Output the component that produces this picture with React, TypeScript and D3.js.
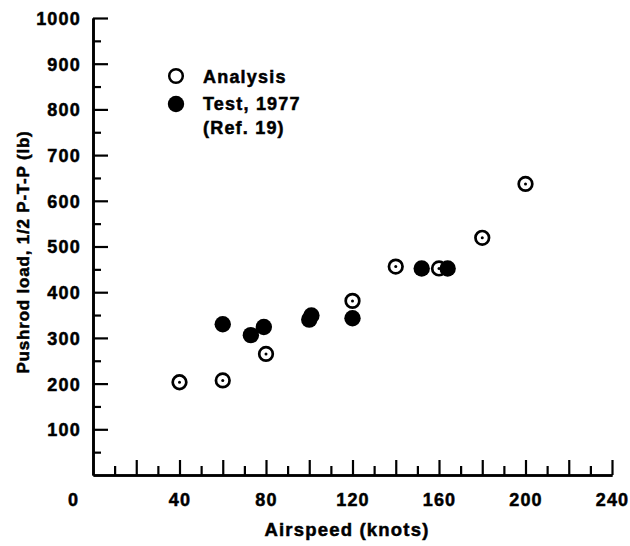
import React, { Component } from "react"
import * as d3 from "d3"

// values
const analysisSpeed = [40, 60, 80, 120, 140, 160, 180, 200]
const analysisLoad = [203, 207, 265, 381, 456, 452, 519, 637]
const testSpeed = [60, 73, 79, 100, 101, 120, 152, 164]
const testLoad = [330, 306, 324, 340, 349, 343, 452, 452]

const xMajorTicks = d3.range(20, 241, 20)
const xMinorTicks = d3.range(10, 240, 20)
const xTickLabels = [0, 40, 80, 120, 160, 200, 240]
const yMajorTicks = d3.range(100, 1001, 100)
const yMinorTicks = d3.range(50, 1000, 100)
const legendItems = ["Analysis", "Test, 1977", "(Ref. 19)"]

const FONT = "'Liberation Sans', Arial, Helvetica, sans-serif"

class App extends Component {
  svgRef = React.createRef<SVGSVGElement>()

  componentDidMount() {
    const svg = d3.select(this.svgRef.current)
    svg.selectAll("*").remove()

    const x = d3.scaleLinear().domain([0, 240]).range([93, 612])
    const y = d3.scaleLinear().domain([0, 1000]).range([475, 18])

    // heavy bold text like the scanned figure
    const boldText = (t, size) => t.attr("fill", "#000").attr("font-family", FONT)
      .attr("font-weight", "bold").attr("font-size", size).attr("letter-spacing", 1.2)
      .attr("stroke", "#000").attr("stroke-width", 0.5)

    const styleAxis = (g) => {
      g.select(".domain").attr("stroke", "#000").attr("stroke-width", 2.6)
      g.selectAll(".tick line").attr("stroke", "#000").attr("stroke-width", 2.2)
      g.selectAll(".tick text").call(boldText, 18)
    }

    // y axis, ticks pointing inward
    svg.append("g").attr("transform", `translate(${x(0)},0)`)
      .call(d3.axisLeft(y).tickValues(yMinorTicks).tickSizeInner(-8).tickSizeOuter(0).tickFormat(() => ""))
      .call(styleAxis)
    svg.append("g").attr("transform", `translate(${x(0)},0)`)
      .call(d3.axisLeft(y).tickValues(yMajorTicks).tickSizeInner(-15).tickSizeOuter(0).tickPadding(12).tickFormat(d3.format("d")))
      .call(styleAxis)
      .call(g => g.selectAll(".tick text").attr("dy", "0.36em"))

    // x axis
    svg.append("g").attr("transform", `translate(0,${y(0)})`)
      .call(d3.axisBottom(x).tickValues(xMinorTicks).tickSizeInner(-9).tickSizeOuter(0).tickFormat(() => ""))
      .call(styleAxis)
    svg.append("g").attr("transform", `translate(0,${y(0)})`)
      .call(d3.axisBottom(x).tickValues(xMajorTicks).tickSizeInner(-15).tickSizeOuter(0).tickFormat(() => ""))
      .call(styleAxis)
    svg.append("g").attr("transform", `translate(0,${y(0)})`)
      .call(d3.axisBottom(x).tickValues(xTickLabels).tickSize(0).tickPadding(18).tickFormat(d3.format("d")))
      .call(styleAxis)
      .call(g => g.select(".domain").remove())
      .call(g => g.selectAll(".tick text").attr("dx", d => d === 0 ? -20 : 0))

    // axis titles
    svg.append("text").attr("x", 347).attr("y", 536).attr("text-anchor", "middle")
      .call(boldText, 18.5)
      .text("Airspeed (knots)")
    svg.append("text").attr("transform", "translate(29,252) rotate(-90)").attr("text-anchor", "middle")
      .call(boldText, 17).attr("letter-spacing", 0.8)
      .text("Pushrod load, 1/2 P-T-P (lb)")

    // analysis points: open circle with a dot
    const a = svg.append("g").selectAll("g").data(analysisSpeed.map((s, i) => [s, analysisLoad[i]])).join("g")
      .attr("transform", d => `translate(${x(d[0])},${y(d[1])})`)
    a.append("circle").attr("r", 6.8).attr("fill", "#fff").attr("stroke", "#000").attr("stroke-width", 2.7)
    a.append("circle").attr("r", 1.5).attr("fill", "#000")

    // test points: filled circles
    svg.append("g").selectAll("circle").data(testSpeed.map((s, i) => [s, testLoad[i]])).join("circle")
      .attr("cx", d => x(d[0])).attr("cy", d => y(d[1])).attr("r", 8.2).attr("fill", "#000")

    // legend
    const lg = svg.append("g")
    lg.append("circle").attr("cx", 176).attr("cy", 76).attr("r", 6.8).attr("fill", "#fff").attr("stroke", "#000").attr("stroke-width", 2.5)
    lg.append("circle").attr("cx", 176).attr("cy", 104).attr("r", 8.2).attr("fill", "#000")
    lg.selectAll("text").data(legendItems).join("text")
      .attr("x", 203).attr("y", (d, i) => [83, 110, 134][i])
      .call(boldText, 18)
      .text(d => d)
  }

  render() {
    return (
      <svg ref={this.svgRef} width={630} height={546}
        style={{ position: "absolute", left: 0, top: 0, background: "#fff" }} />
    )
  }
}

export default App
